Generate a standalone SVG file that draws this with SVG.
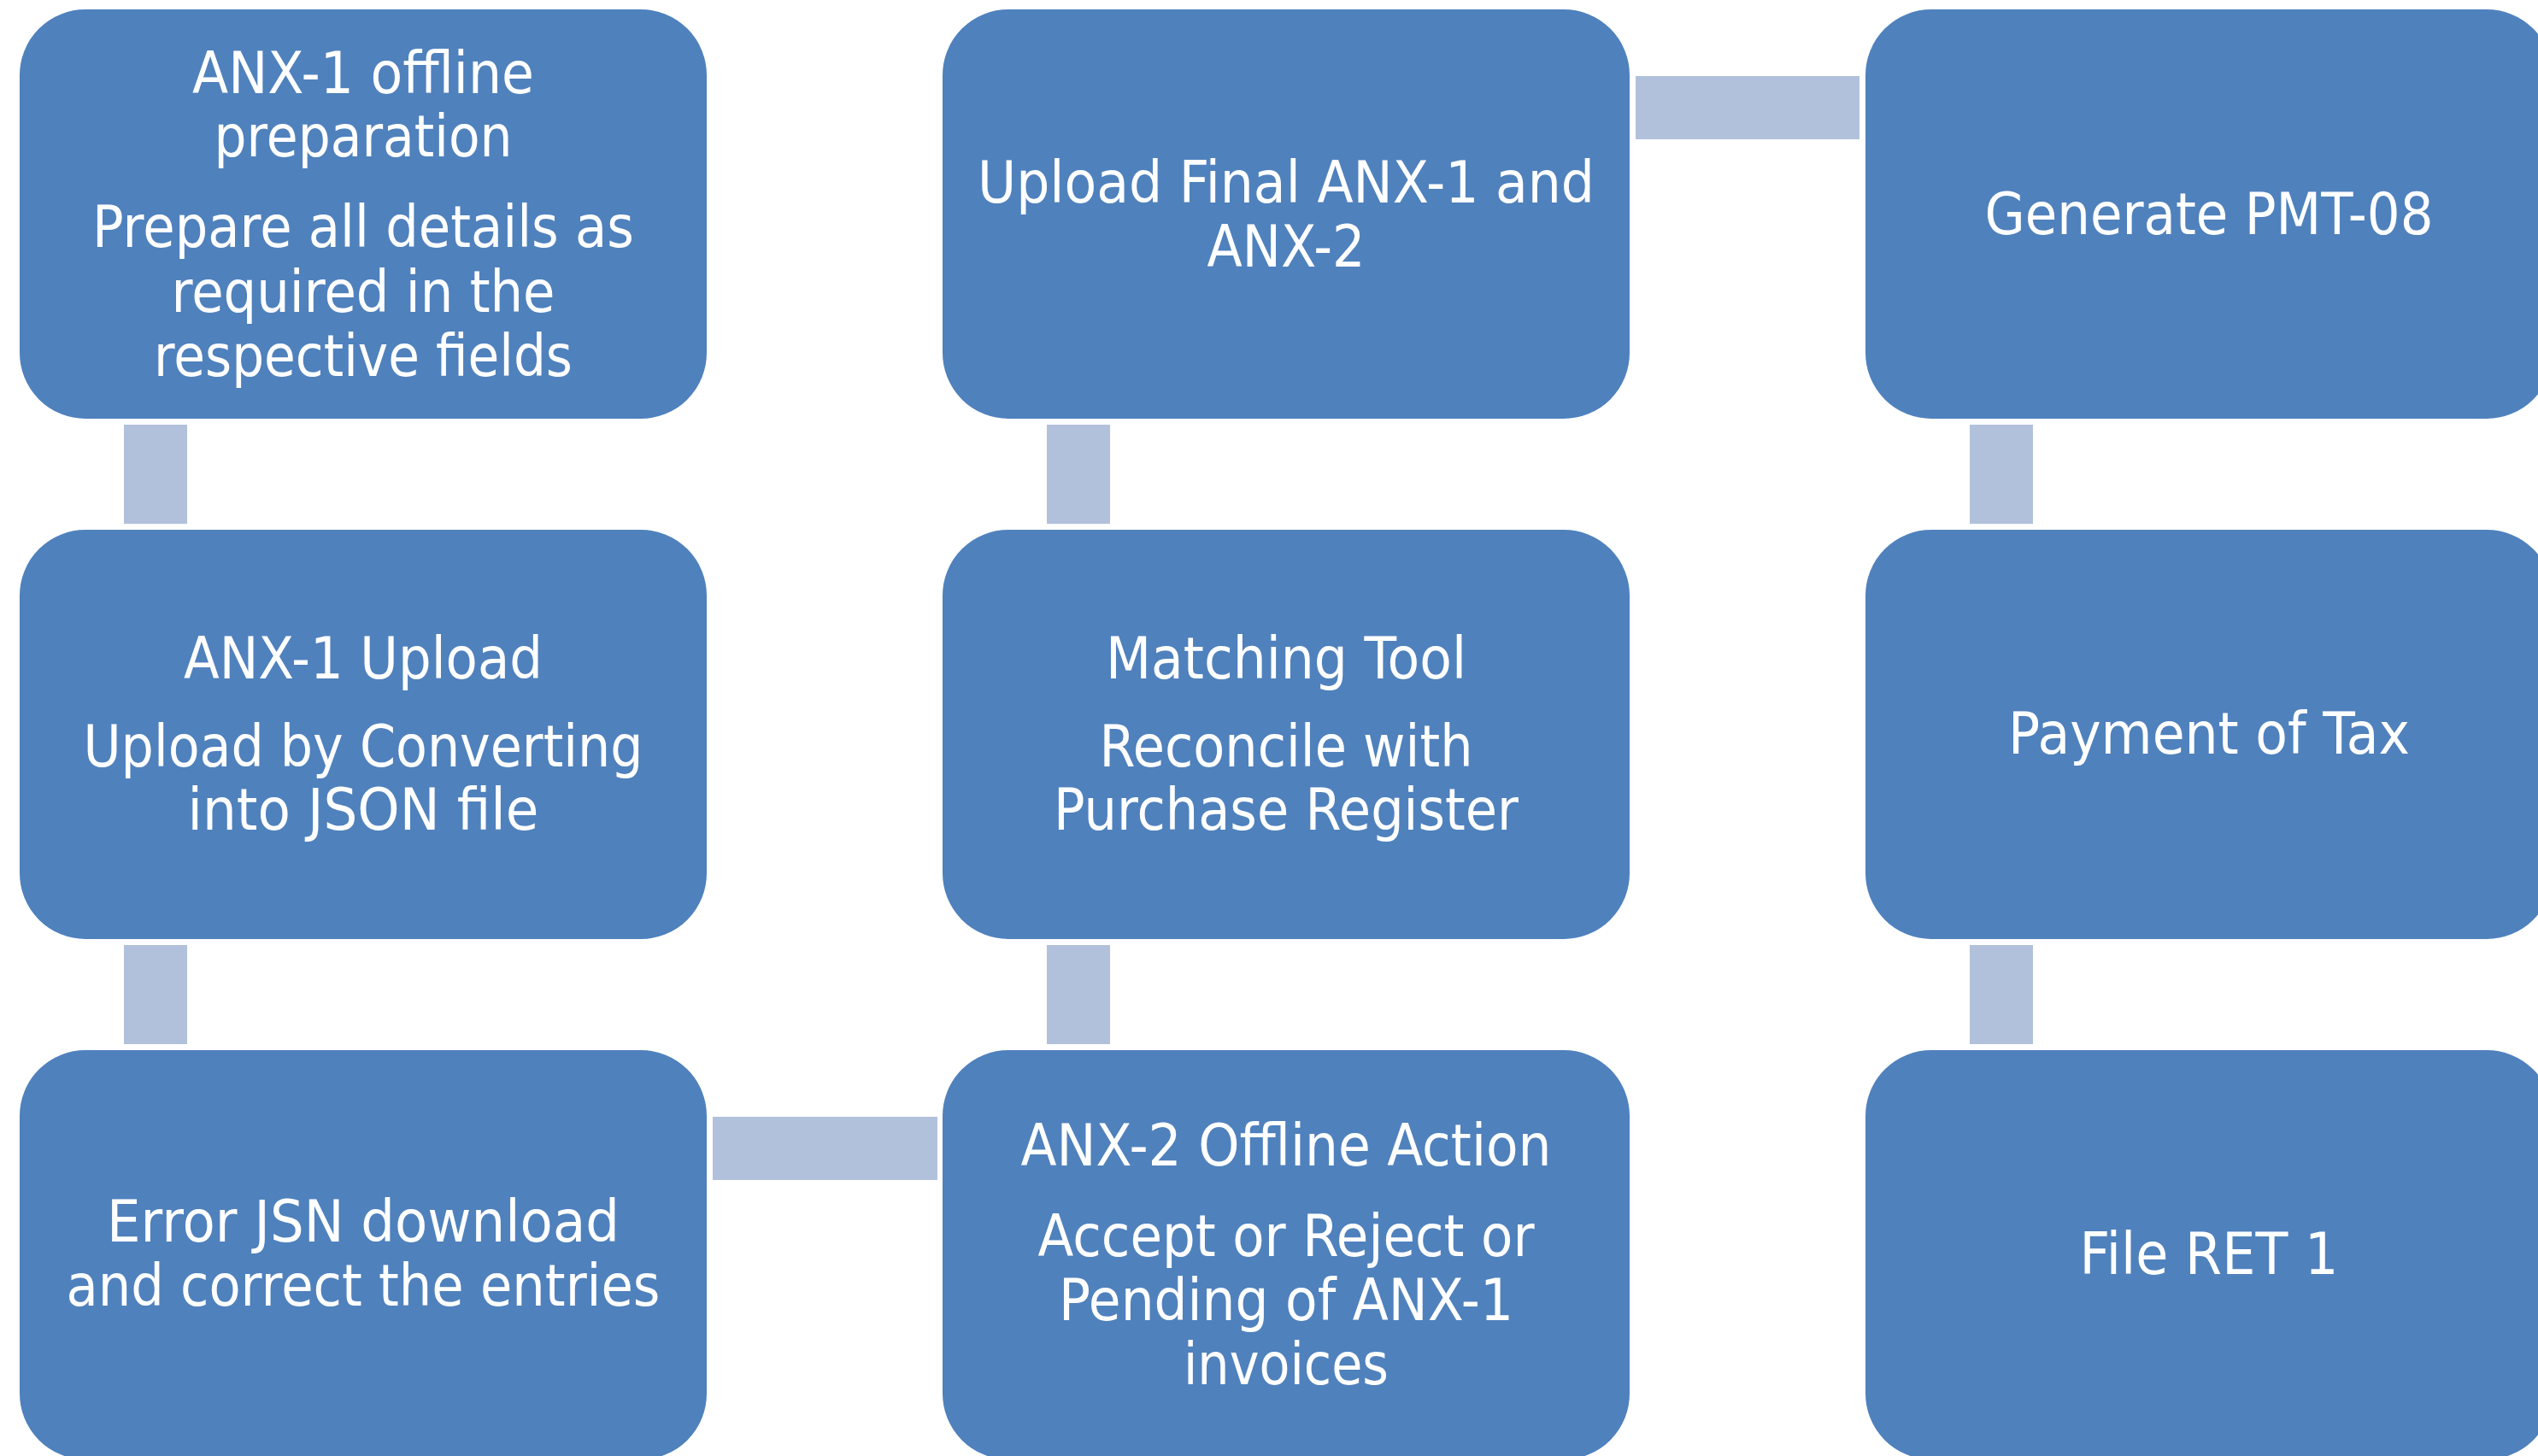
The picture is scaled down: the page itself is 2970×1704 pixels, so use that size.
<svg xmlns="http://www.w3.org/2000/svg" width="2970" height="1704" viewBox="0 0 2970 1704">
<style>
.box{fill:#4F81BD;stroke:#FFFFFF;stroke-width:2}
.con{fill:#B2C1DB}
text{font-family:'DejaVu Sans','Liberation Sans',sans-serif;font-size:68px;fill:#FFFFFF;text-anchor:middle}
</style>
<rect width="2970" height="1704" fill="#FFFFFF"/>
<g id="connectors">
<rect class="con" x="145" y="497" width="74" height="116"/>
<rect class="con" x="145" y="1106" width="74" height="116"/>
<rect class="con" x="834" y="1307" width="263" height="74"/>
<rect class="con" x="1225" y="1106" width="74" height="116"/>
<rect class="con" x="1225" y="497" width="74" height="116"/>
<rect class="con" x="1914" y="89" width="262" height="74"/>
<rect class="con" x="2305" y="497" width="74" height="116"/>
<rect class="con" x="2305" y="1106" width="74" height="116"/>
</g>
<g id="n1">
<rect class="box" x="22" y="10" width="806" height="481" rx="78" ry="78"/>
<text x="425" y="109" textLength="400" lengthAdjust="spacingAndGlyphs">ANX-1 offline</text>
<text x="425" y="183" textLength="349" lengthAdjust="spacingAndGlyphs">preparation</text>
<text x="425" y="289" textLength="634" lengthAdjust="spacingAndGlyphs">Prepare all details as</text>
<text x="425" y="365" textLength="449" lengthAdjust="spacingAndGlyphs">required in the</text>
<text x="425" y="440" textLength="490" lengthAdjust="spacingAndGlyphs">respective fields</text>
</g>
<g id="n2">
<rect class="box" x="22" y="619" width="806" height="481" rx="78" ry="78"/>
<text x="425" y="794" textLength="420" lengthAdjust="spacingAndGlyphs">ANX-1 Upload</text>
<text x="425" y="897" textLength="655" lengthAdjust="spacingAndGlyphs">Upload by Converting</text>
<text x="425" y="971" textLength="411" lengthAdjust="spacingAndGlyphs">into JSON file</text>
</g>
<g id="n3">
<rect class="box" x="22" y="1228" width="806" height="481" rx="78" ry="78"/>
<text x="425" y="1453" textLength="600" lengthAdjust="spacingAndGlyphs">Error JSN download</text>
<text x="425" y="1528" textLength="695" lengthAdjust="spacingAndGlyphs">and correct the entries</text>
</g>
<g id="n4">
<rect class="box" x="1102" y="1228" width="806" height="481" rx="78" ry="78"/>
<text x="1505" y="1364" textLength="621" lengthAdjust="spacingAndGlyphs">ANX-2 Offline Action</text>
<text x="1505" y="1470" textLength="581" lengthAdjust="spacingAndGlyphs">Accept or Reject or</text>
<text x="1505" y="1545" textLength="532" lengthAdjust="spacingAndGlyphs">Pending of ANX-1</text>
<text x="1505" y="1620" textLength="240" lengthAdjust="spacingAndGlyphs">invoices</text>
</g>
<g id="n5">
<rect class="box" x="1102" y="619" width="806" height="481" rx="78" ry="78"/>
<text x="1505" y="794" textLength="422" lengthAdjust="spacingAndGlyphs">Matching Tool</text>
<text x="1505" y="897" textLength="437" lengthAdjust="spacingAndGlyphs">Reconcile with</text>
<text x="1505" y="971" textLength="544" lengthAdjust="spacingAndGlyphs">Purchase Register</text>
</g>
<g id="n6">
<rect class="box" x="1102" y="10" width="806" height="481" rx="78" ry="78"/>
<text x="1505" y="237" textLength="722" lengthAdjust="spacingAndGlyphs">Upload Final ANX-1 and</text>
<text x="1505" y="312" textLength="185" lengthAdjust="spacingAndGlyphs">ANX-2</text>
</g>
<g id="n7">
<rect class="box" x="2182" y="10" width="806" height="481" rx="78" ry="78"/>
<text x="2585" y="274" textLength="525" lengthAdjust="spacingAndGlyphs">Generate PMT-08</text>
</g>
<g id="n8">
<rect class="box" x="2182" y="619" width="806" height="481" rx="78" ry="78"/>
<text x="2585" y="882" textLength="470" lengthAdjust="spacingAndGlyphs">Payment of Tax</text>
</g>
<g id="n9">
<rect class="box" x="2182" y="1228" width="806" height="481" rx="78" ry="78"/>
<text x="2585" y="1491" textLength="303" lengthAdjust="spacingAndGlyphs">File RET 1</text>
</g>
</svg>
